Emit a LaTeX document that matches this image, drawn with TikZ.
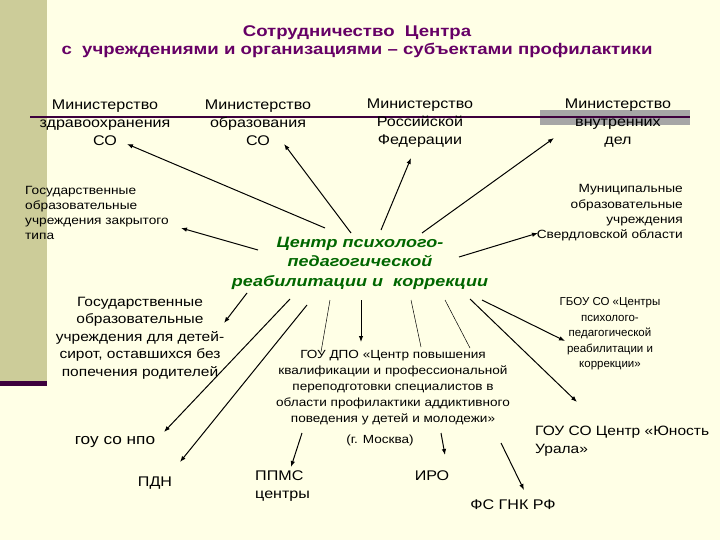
\documentclass[tikz,border=0pt]{standalone}
\usepackage{fontspec}
\setmainfont{Liberation Sans}
\newfontfamily\widefont[FakeStretch=1.15]{Liberation Sans}
\newfontfamily\ttlfont[FakeStretch=1.2]{Liberation Sans}
\usetikzlibrary{arrows.meta}
\definecolor{bg}{HTML}{FFFFE6}
\definecolor{strip}{HTML}{CCCC99}
\definecolor{ttl}{HTML}{660066}
\definecolor{grn}{HTML}{006600}
\begin{document}
\begin{tikzpicture}[x=1pt,y=-1pt,
  arr/.style={-{Latex[length=6pt,width=4.5pt]},line width=1pt},
  ln/.style={line width=0.5pt},
  big/.style={font=\widefont\fontsize{14}{18}\selectfont,align=center,inner sep=0pt},
  sm/.style={font=\widefont\fontsize{11.9}{15.3}\selectfont,inner sep=0pt},
  mid/.style={font=\widefont\fontsize{11.8}{16}\selectfont,align=center,inner sep=0pt}]
\fill[bg] (0,0) rectangle (720,540);
\useasboundingbox (0,0) rectangle (720,540);
\fill[strip] (0,0) rectangle (47,382);
\fill[ttl!60!black] (0,381) rectangle (47,386);
\fill[black!35] (540,110) rectangle (690,125);
\draw[ttl!60!black,line width=1.5pt] (30,117) -- (690,117);
\node[font=\ttlfont\bfseries\fontsize{15.5}{18}\selectfont,text=ttl,align=center,inner sep=0pt] (title) at (357,42)
 {Сотрудничество \ Центра\\с \ учреждениями и организациями – субъектами профилактики};
\node[big] (m1) at (105,123) {Министерство\\здравоохранения\\СО};
\node[big] (m2) at (258,123) {Министерство\\образования\\СО};
\node[big] (m3) at (420,123) {Министерство\\Российской\\Федерации};
\node[big] (m4) at (618,123) {Министерство\\внутренних\\дел};
\node[sm,align=left,anchor=west] (gz) at (25,213) {Государственные\\образовательные\\учреждения закрытого\\типа};
\node[sm,align=right,anchor=east] (mu) at (683,213) {Муниципальные\\образовательные\\учреждения\\Свердловской области};
\node[font=\ttlfont\bfseries\itshape\fontsize{15}{19.5}\selectfont,text=grn,align=center,inner sep=0pt] (c) at (360,263)
 {Центр психолого-\\педагогической\\реабилитации и \ коррекции};
\node[big,font=\widefont\fontsize{13.5}{17.5}\selectfont] (gs) at (140,338) {Государственные\\образовательные\\учреждения для детей-\\сирот, оставшихся без\\попечения родителей};
\node[mid] (dpo) at (393,388) {ГОУ ДПО «Центр повышения\\квалификации и профессиональной\\переподготовки специалистов в\\области профилактики аддиктивного\\поведения у детей и молодежи»};
\node[mid] (msk) at (380,440) {(г. Москва)};
\node[mid,font=\fontsize{11.5}{15.5}\selectfont] (gb) at (610,334) {ГБОУ СО «Центры\\психолого-\\педагогической\\реабилитации и\\коррекции»};
\node[big,align=left,anchor=west,font=\widefont\fontsize{13.5}{18}\selectfont] (yu) at (535,441) {ГОУ СО Центр «Юность\\Урала»};
\node[big,font=\widefont\fontsize{15}{18}\selectfont] (npo) at (115,442) {гоу со нпо};
\node[big] (pdn) at (155,483) {ПДН};
\node[big,align=left,anchor=west] (ppms) at (255,486) {ППМС\\центры};
\node[big] (iro) at (432,476) {ИРО};
\node[big] (fs) at (513,505) {ФС ГНК РФ};
\foreach \n/\ax/\ay/\bx/\by in {a1/325/228/127/144, a2/351/233/284/144, a3/381/230/411/158, a4/422/233/554/138,
  a5/258/250/181/228, a6/459/257/538/233, a7/247/293/224/323, a8/290/299/164/432, a9/307/305/180/462,
  a11/361/300/361/342, a14/470/299/577/402, a15/482/300/565/341, a16/302/433/291/467,
  a17/441/433/445/455, a18/501/443/524/490}{
  \coordinate (\n s) at (\ax,\ay); \coordinate (\n e) at (\bx,\by);
  \draw[arr] (\n s) -- (\n e);}
\foreach \n/\ax/\ay/\bx/\by in {l1/330/300/321/352, l2/411/300/421/347, l3/445/300/470/348}{
  \coordinate (\n s) at (\ax,\ay); \coordinate (\n e) at (\bx,\by);
  \draw[ln] (\n s) -- (\n e);}
\end{tikzpicture}
\end{document}
